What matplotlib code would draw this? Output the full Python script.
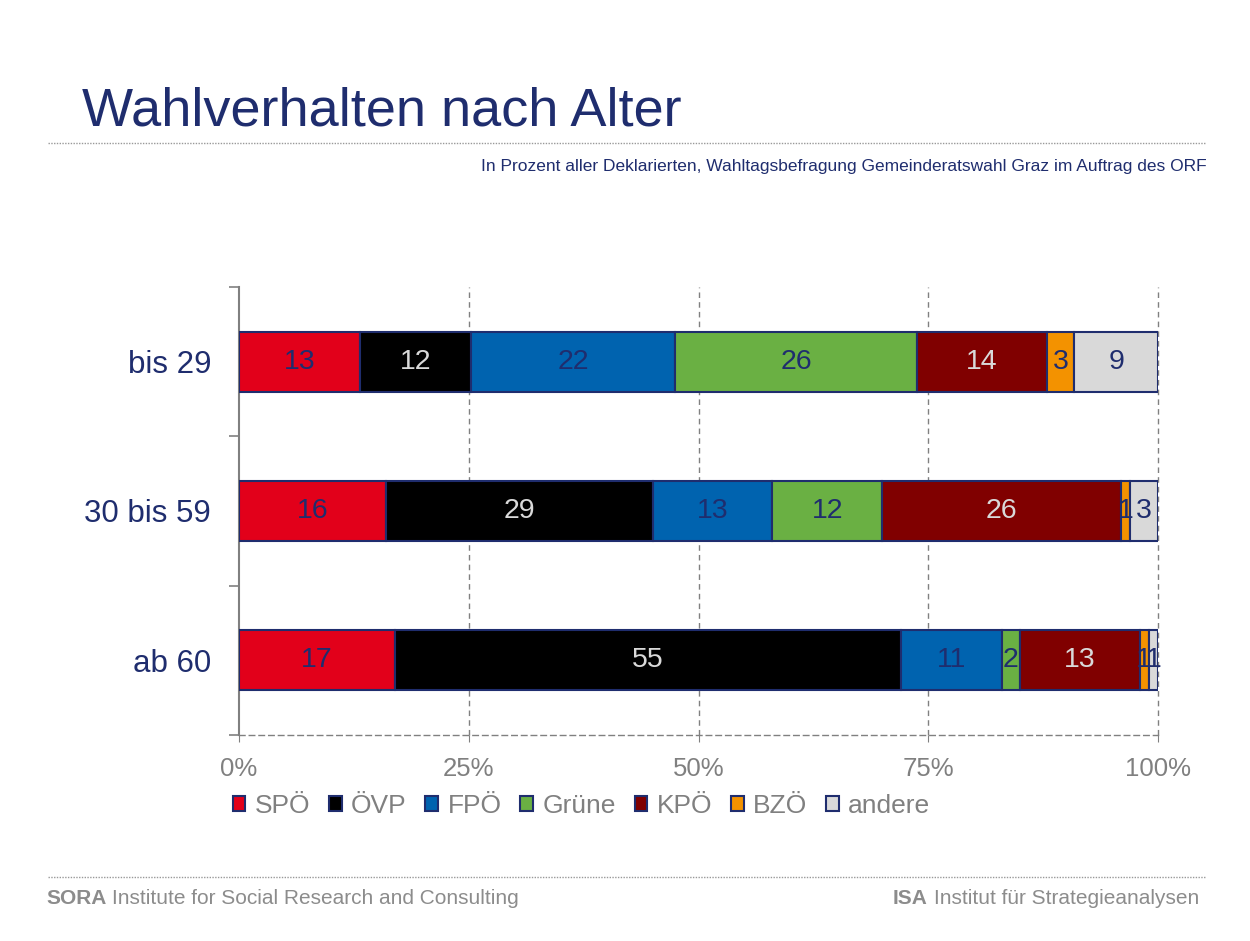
import numpy as np
import matplotlib.pyplot as plt
from matplotlib.lines import Line2D

plt.rcParams['font.family'] = ['Liberation Sans', 'DejaVu Sans']

# data
groups = ['bis 29', '30 bis 59', 'ab 60']
parties = ['SPÖ', 'ÖVP', 'FPÖ', 'Grüne', 'KPÖ', 'BZÖ', 'andere']
values = np.array([
    [13, 12, 22, 26, 14, 3, 9],
    [16, 29, 13, 12, 26, 1, 3],
    [17, 55, 11, 2, 13, 1, 1],
])
ticks = [0, 25, 50, 75, 100]

colors = ['#E2001A', '#000000', '#0063AF', '#6AB043', '#800000', '#F39200', '#D9D9D9']
label_colors = ['#1F2D6E', '#D9D9D9', '#1F2D6E', '#1F2D6E', '#D9D9D9', '#1F2D6E', '#1F2D6E']
navy = '#1F2D6E'
grey = '#808080'

fig = plt.figure(figsize=(12.5, 9.41), dpi=100)
ax = fig.add_axes([239 / 1250, 206 / 941, 919 / 1250, 448 / 941])

shares = values / values.sum(axis=1, keepdims=True) * 100
y = np.arange(len(groups))
left = np.zeros(len(groups))
for j, p in enumerate(parties):
    ax.barh(y, shares[:, j], left=left, height=0.4, color=colors[j],
            edgecolor=navy, linewidth=1.5, label=p, zorder=3)
    for i in range(len(groups)):
        ax.text(left[i] + shares[i, j] / 2, y[i], str(values[i, j]),
                ha='center', va='center', fontsize=20.5, color=label_colors[j], zorder=4)
    left += shares[:, j]

ax.set_xlim(0, 100)
ax.set_ylim(2.5, -0.5)
ax.set_xticks(ticks)
ax.set_xticklabels([f'{t}%' for t in ticks], fontsize=18.5, color=grey)
ax.set_yticks(y)
ax.set_yticklabels(groups, fontsize=22.5, color=navy)
ax.set_yticks([-0.5, 0.5, 1.5, 2.5], minor=True)
ax.tick_params(axis='y', which='major', length=0, pad=20)
ax.tick_params(axis='y', which='minor', length=7, color=grey, width=1.2)
ax.tick_params(axis='x', length=5, color=grey, pad=11)

for t in ticks[1:]:
    ax.axvline(t, color=grey, linestyle=(0, (4, 3)), linewidth=1, zorder=1,
               clip_on=False)

for s in ['top', 'right']:
    ax.spines[s].set_visible(False)
ax.spines['left'].set_color(grey)
ax.spines['left'].set_linewidth(1.5)
ax.spines['bottom'].set_color(grey)
ax.spines['bottom'].set_linestyle((0, (4, 3)))
ax.spines['bottom'].set_linewidth(1)

# titles
fig.text(82 / 1250, 1 - 112 / 941, 'Wahlverhalten nach Alter', fontsize=39,
         color=navy, va='center', ha='left')
fig.text(1207 / 1250, 1 - 167 / 941,
         'In Prozent aller Deklarierten, Wahltagsbefragung Gemeinderatswahl Graz im Auftrag des ORF',
         fontsize=12.5, color=navy, ha='right', va='center')

for yy in [143, 877]:
    fig.add_artist(Line2D([48 / 1250, 1205 / 1250], [1 - yy / 941] * 2,
                          color='#999999', linestyle=(0, (1, 1)), linewidth=1))

# legend
leg = fig.legend(loc='center left', bbox_to_anchor=(222 / 1250, 1 - 806 / 941),
                 ncol=7, frameon=False, fontsize=19, handlelength=0.48,
                 handleheight=0.48, handletextpad=0.35, columnspacing=0.72,
                 borderaxespad=0)
for txt in leg.get_texts():
    txt.set_color(grey)

# footer
foot = '#8C8C8C'
fig.text(46 / 1250, 1 - 898 / 941, 'SORA', fontsize=15, color=foot,
         fontweight='bold', va='center')
fig.text(112 / 1250, 1 - 898 / 941, 'Institute for Social Research and Consulting',
         fontsize=15, color=foot, va='center')
fig.text(1199 / 1250, 1 - 898 / 941, 'Institut für Strategieanalysen', fontsize=15,
         color=foot, va='center', ha='right')
fig.text(928 / 1250, 1 - 898 / 941, 'ISA', fontsize=15, color=foot,
         fontweight='bold', va='center', ha='right')

fig.savefig('out.png', dpi=100)
